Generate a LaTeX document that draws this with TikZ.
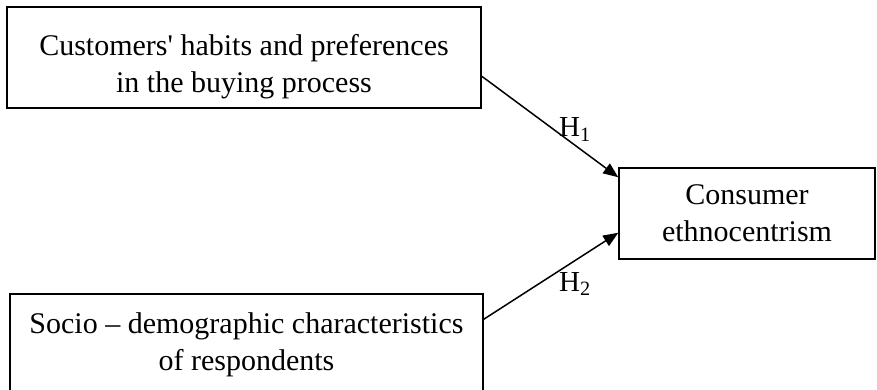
\documentclass[tikz,border=0pt]{standalone}
\usepackage{fontspec}
\setmainfont{Liberation Serif}
\usetikzlibrary{positioning,arrows.meta}

\begin{document}
\begin{tikzpicture}[x=1pt, y=-1pt,
      box/.style={rectangle, draw=black, line width=1.5pt, align=center,
        font=\fontsize{30}{37}\selectfont},
      txt/.style={align=center, inner sep=0pt, font=\fontsize{30}{37}\selectfont},
      hyp/.style={anchor=base west, inner sep=0pt, font=\fontsize{29}{34}\selectfont},
      arr/.style={-{Triangle[length=15pt,width=12pt]}, line width=1.5pt}
    ]
      \useasboundingbox (0,0) rectangle (877,390);
      \node[box, minimum width=474pt, minimum height=101pt] (habits) at (244,57.5) {};
      \node[txt] (habitstxt) at (244,66.5)
        {Customers\textquotesingle{} habits and preferences\\in the buying process};
      \node[box, minimum width=256pt, minimum height=91pt] (ethno) at (747,213.5)
        {Consumer\\ethnocentrism};
      \node[box, minimum width=473pt, minimum height=102pt] (socio) at (246.5,345)
        {Socio -- demographic characteristics\\of respondents};
      \node[hyp] (h1) at (559,137) {H\textsubscript{1}};
      \node[hyp] (h2) at (559,291) {H\textsubscript{2}};
      \draw[arr] ([yshift=-70pt]habits.north east) -- ([yshift=-10pt]ethno.north west);
      \draw[arr] ([yshift=-26pt]socio.north east) -- ([yshift=27pt]ethno.south west);
    \end{tikzpicture}
\end{document}
